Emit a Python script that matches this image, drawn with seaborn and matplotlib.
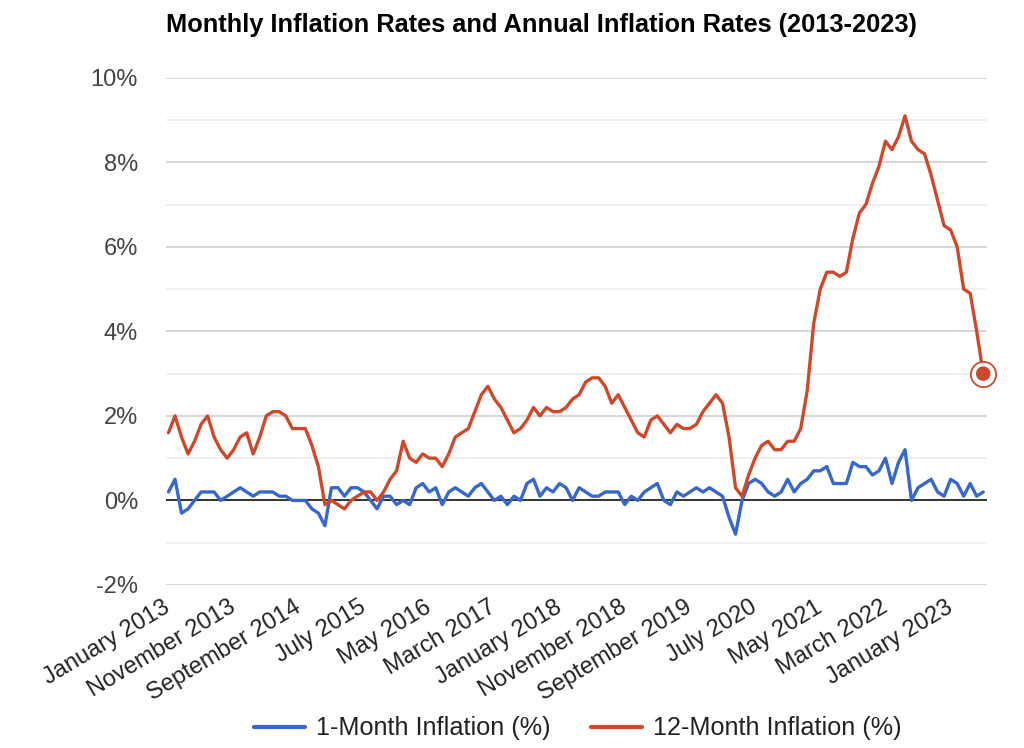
import matplotlib
matplotlib.use("Agg")
import matplotlib.pyplot as plt
import seaborn as sns
import pandas as pd
import numpy as np

# monthly values, January 2013 .. June 2023
one_month = [
    0.2, 0.5, -0.3, -0.2, 0.0, 0.2, 0.2, 0.2, 0.0, 0.1, 0.2, 0.3,
    0.2, 0.1, 0.2, 0.2, 0.2, 0.1, 0.1, 0.0, 0.0, 0.0, -0.2, -0.3,
    -0.6, 0.3, 0.3, 0.1, 0.3, 0.3, 0.2, 0.0, -0.2, 0.1, 0.1, -0.1,
    0.0, -0.1, 0.3, 0.4, 0.2, 0.3, -0.1, 0.2, 0.3, 0.2, 0.1, 0.3,
    0.4, 0.2, 0.0, 0.1, -0.1, 0.1, 0.0, 0.4, 0.5, 0.1, 0.3, 0.2,
    0.4, 0.3, 0.0, 0.3, 0.2, 0.1, 0.1, 0.2, 0.2, 0.2, -0.1, 0.1,
    0.0, 0.2, 0.3, 0.4, 0.0, -0.1, 0.2, 0.1, 0.2, 0.3, 0.2, 0.3,
    0.2, 0.1, -0.4, -0.8, 0.0, 0.4, 0.5, 0.4, 0.2, 0.1, 0.2, 0.5,
    0.2, 0.4, 0.5, 0.7, 0.7, 0.8, 0.4, 0.4, 0.4, 0.9, 0.8, 0.8,
    0.6, 0.7, 1.0, 0.4, 0.9, 1.2, 0.0, 0.3, 0.4, 0.5, 0.2, 0.1,
    0.5, 0.4, 0.1, 0.4, 0.1, 0.2,
]
twelve_month = [
    1.6, 2.0, 1.5, 1.1, 1.4, 1.8, 2.0, 1.5, 1.2, 1.0, 1.2, 1.5,
    1.6, 1.1, 1.5, 2.0, 2.1, 2.1, 2.0, 1.7, 1.7, 1.7, 1.3, 0.8,
    -0.1, 0.0, -0.1, -0.2, 0.0, 0.1, 0.2, 0.2, 0.0, 0.2, 0.5, 0.7,
    1.4, 1.0, 0.9, 1.1, 1.0, 1.0, 0.8, 1.1, 1.5, 1.6, 1.7, 2.1,
    2.5, 2.7, 2.4, 2.2, 1.9, 1.6, 1.7, 1.9, 2.2, 2.0, 2.2, 2.1,
    2.1, 2.2, 2.4, 2.5, 2.8, 2.9, 2.9, 2.7, 2.3, 2.5, 2.2, 1.9,
    1.6, 1.5, 1.9, 2.0, 1.8, 1.6, 1.8, 1.7, 1.7, 1.8, 2.1, 2.3,
    2.5, 2.3, 1.5, 0.3, 0.1, 0.6, 1.0, 1.3, 1.4, 1.2, 1.2, 1.4,
    1.4, 1.7, 2.6, 4.2, 5.0, 5.4, 5.4, 5.3, 5.4, 6.2, 6.8, 7.0,
    7.5, 7.9, 8.5, 8.3, 8.6, 9.1, 8.5, 8.3, 8.2, 7.7, 7.1, 6.5,
    6.4, 6.0, 5.0, 4.9, 4.0, 3.0,
]
months = pd.date_range("2013-01-01", periods=len(twelve_month), freq="MS")
series_names = ["1-Month Inflation (%)", "12-Month Inflation (%)"]
colors = ["#3767cc", "#d0482a"]

df = pd.DataFrame({
    "idx": np.arange(len(months)),
    series_names[0]: one_month,
    series_names[1]: twelve_month,
})
long_df = df.melt(id_vars="idx", var_name="series", value_name="rate")

sns.set_theme(style="white")
plt.rcParams["font.family"] = ["Liberation Sans", "DejaVu Sans"]

fig = plt.figure(figsize=(10.24, 7.48), dpi=100)
ax = fig.add_axes([0.162, 0.218, 0.802, 0.678])

# grid lines every 1%, stronger at every 2%
for v in range(-2, 11):
    ax.axhline(v, color="#cccccc" if v % 2 == 0 else "#ebebeb", lw=1.1, zorder=0)
ax.axhline(0, color="#333333", lw=1.4, zorder=1)

sns.lineplot(data=long_df, x="idx", y="rate", hue="series", palette=colors,
             linewidth=2.4, ax=ax, legend=True, zorder=3)

# highlighted last point of the 12-month series
last_x = df["idx"].iloc[-1]
last_y = df[series_names[1]].iloc[-1]
ax.scatter([last_x], [last_y], s=330, facecolor="white", edgecolor=colors[1],
           linewidth=1.3, zorder=4, clip_on=False)
ax.scatter([last_x], [last_y], s=110, facecolor=colors[1], edgecolor="none",
           zorder=5, clip_on=False)

ax.set_xlim(-0.4, len(months) - 0.4)
ax.set_ylim(-2, 10)
ax.set_yticks(range(-2, 11, 2))
ax.set_yticklabels([f"{v}%" for v in range(-2, 11, 2)])
tick_idx = list(range(0, len(months), 10))
ax.set_xticks(tick_idx)
ax.set_xticklabels([months[i].strftime("%B %Y") for i in tick_idx],
                   rotation=31, ha="right", va="center", rotation_mode="anchor")
ax.tick_params(axis="y", length=0, pad=20, labelsize=17, labelcolor="#444444")
ax.tick_params(axis="x", length=0, pad=15, labelsize=17, labelcolor="#222222")
ax.set_xlabel("")
ax.set_ylabel("")
for s in ax.spines.values():
    s.set_visible(False)

ax.set_title("Monthly Inflation Rates and Annual Inflation Rates (2013-2023)",
             loc="left", fontsize=18.3, fontweight="bold", color="black", pad=33)

leg = ax.legend(loc="center", bbox_to_anchor=(0.502, -0.283), ncol=2, frameon=False,
                fontsize=18.2, handlelength=2.0, handletextpad=0.45, columnspacing=1.6)
leg.set_title(None)
for t in leg.get_texts():
    t.set_color("#222222")
for line in leg.get_lines():
    line.set_linewidth(3)

fig.savefig("out.png", dpi=100)
